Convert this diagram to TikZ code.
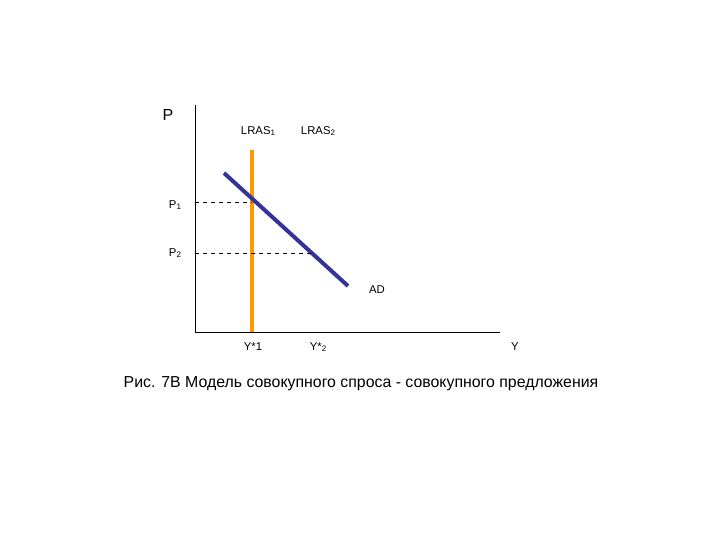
\documentclass[tikz,border=0pt]{standalone}
\usepackage{fontspec}
\setmainfont{Liberation Sans}
\definecolor{adblue}{HTML}{333399}
\definecolor{lrasorange}{HTML}{FF9900}
\begin{document}
\begin{tikzpicture}[x=0.75pt,y=-0.75pt,
  lbl/.style={inner sep=0pt,font=\fontsize{8.5pt}{10pt}\selectfont},
  axis/.style={draw=black,line width=0.65pt},
  guide/.style={draw=black,dashed,line width=0.5pt}]
\useasboundingbox (0,0) rectangle (720,540);
\newcommand{\sbs}[1]{\raisebox{-0.25ex}{\fontsize{6pt}{7pt}\selectfont #1}}
% axes
\coordinate (o) at (195,332);
\coordinate (ytop) at (195,105);
\coordinate (xend) at (500,332);
\draw[axis] (ytop) -- (o) -- (xend);
% LRAS1
\coordinate (l1top) at (252,150);
\coordinate (l1bot) at (252,332);
\draw[lrasorange,line width=2.3pt] (l1top) -- (l1bot);
% AD
\coordinate (ad1) at (224,173);
\coordinate (ad2) at (348,286);
\draw[adblue,line width=3pt] (ad1) -- (ad2);
% guides
\coordinate (p1a) at (195,202);
\coordinate (p1b) at (252,202);
\coordinate (p2a) at (195,253);
\coordinate (p2b) at (311,253);
\draw[guide] (p1a) -- (p1b);
\draw[guide] (p2a) -- (p2b);
% labels
\node[inner sep=0pt,font=\fontsize{12pt}{14pt}\selectfont] (P) at (168,115) {P};
\node[lbl] (LR1) at (258,131) {LRAS\sbs{1}};
\node[lbl] (LR2) at (318,131) {LRAS\sbs{2}};
\node[lbl] (P1) at (175,205) {P\sbs{1}};
\node[lbl] (P2) at (175,253) {P\sbs{2}};
\node[lbl] (AD) at (377,290) {AD};
\node[lbl] (Y1) at (253,347) {Y*1};
\node[lbl] (Y2) at (318,347) {Y*\sbs{2}};
\node[lbl] (Y) at (515,347) {Y};
\node[inner sep=0pt,font=\fontsize{11.9pt}{14pt}\selectfont] (cap) at (361,384) {Рис. 7В Модель совокупного спроса - совокупного предложения};
\end{tikzpicture}
\end{document}
